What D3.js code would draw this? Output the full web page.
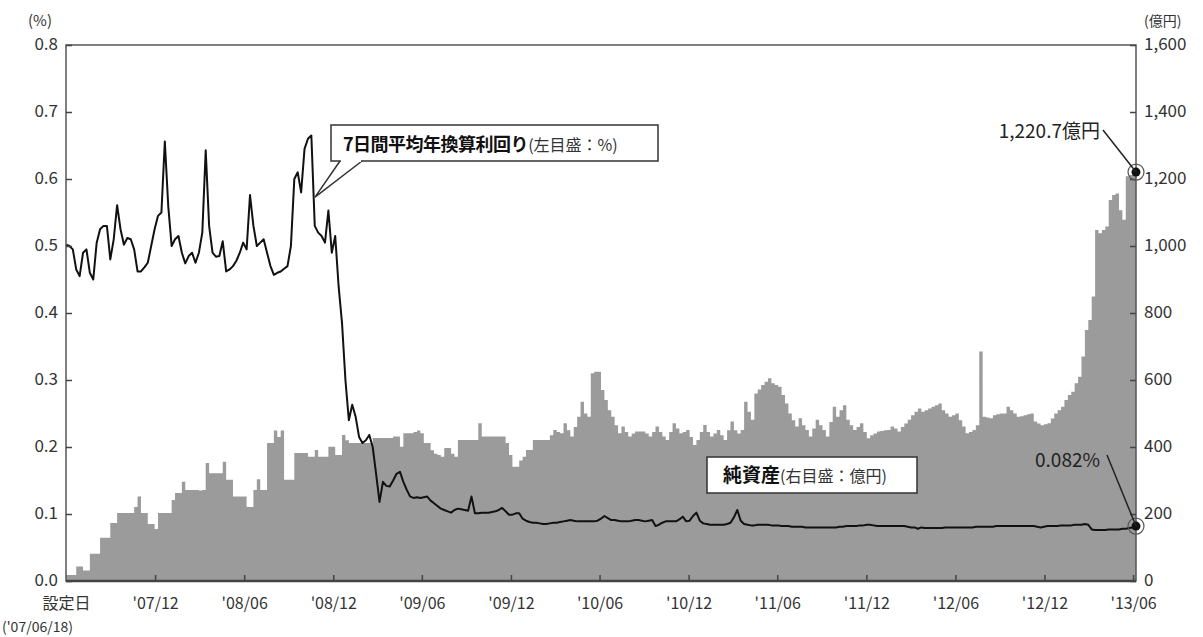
<!DOCTYPE html>
<html>
<head>
<meta charset="utf-8">
<script src="https://cdn.jsdelivr.net/npm/d3@7"></script>
<style>
  body { margin: 0; background: #fff; }
  text { font-family: "Noto Sans CJK JP", "Noto Sans", sans-serif; }
</style>
</head>
<body>
<svg id="chart" width="1203" height="637"></svg>
<script>
// weekly data from the setup date
const startDate = new Date(2007, 5, 18);
const stepDays = 7;

// net assets (右目盛：億円)
const netAssets = [
  18,18,18,43,43,31,31,81,81,81,
  129,129,129,173,173,203,203,203,203,203,
  221,252,203,203,170,170,155,203,203,203,
  203,242,263,263,296,272,272,272,272,270,
  272,352,322,322,322,322,356,302,302,252,
  252,252,252,221,221,272,304,272,272,412,
  412,449,430,449,302,302,302,382,382,382,
  382,371,371,391,371,371,371,401,401,376,
  376,436,420,412,412,412,412,412,412,412,
  427,427,427,427,427,427,431,431,401,441,
  441,441,445,449,441,412,412,390,380,376,
  371,397,397,380,371,421,421,421,421,421,
  421,471,431,431,431,431,431,431,431,412,
  376,341,341,360,371,391,391,421,421,421,
  421,421,435,451,445,441,471,450,431,460,
  490,535,500,490,620,625,625,570,540,510,
  490,465,441,461,445,431,440,446,446,446,
  440,431,445,461,445,431,421,445,471,455,
  441,445,451,430,406,421,445,466,445,431,
  440,451,435,421,450,476,450,440,451,535,
  505,481,560,572,585,595,605,590,585,580,
  555,530,500,480,461,486,465,451,431,455,
  481,465,451,431,475,520,490,510,525,481,
  465,451,460,471,445,426,435,440,446,448,
  450,451,461,455,446,460,470,481,495,505,
  515,505,510,515,520,525,530,510,500,490,
  495,500,480,461,441,445,451,465,685,490,
  488,486,495,498,500,500,520,510,500,490,
  492,495,498,500,476,470,465,468,471,485,
  500,510,520,540,555,565,590,610,670,749,
  779,849,1048,1038,1048,1058,1137,1152,1157,1107,
  1078,1208,1212,1217,1220.7
];

// 7-day average annualised yield (左目盛：%)
const yield7d = [
  .502,.50,.495,.465,.455,.49,.495,.46,.45,.505,
  .525,.53,.53,.48,.51,.561,.525,.502,.512,.51,
  .495,.462,.462,.468,.475,.50,.525,.545,.55,.656,
  .56,.50,.51,.515,.49,.474,.485,.49,.475,.49,
  .52,.643,.53,.49,.484,.485,.507,.462,.465,.47,
  .478,.49,.505,.495,.576,.53,.50,.505,.51,.49,
  .47,.457,.46,.462,.466,.47,.50,.60,.61,.58,
  .645,.66,.665,.53,.52,.515,.505,.553,.49,.515,
  .44,.385,.30,.24,.263,.245,.215,.206,.21,.218,
  .20,.16,.118,.148,.142,.141,.15,.16,.163,.148,
  .136,.126,.124,.125,.124,.125,.126,.12,.116,.112,
  .108,.106,.104,.102,.106,.108,.107,.106,.105,.126,
  .101,.101,.102,.102,.102,.103,.104,.106,.109,.104,
  .099,.099,.101,.101,.093,.09,.088,.087,.087,.086,
  .085,.085,.086,.087,.087,.088,.089,.09,.091,.09,
  .089,.089,.089,.089,.089,.089,.09,.093,.097,.094,
  .091,.091,.09,.089,.089,.089,.09,.091,.091,.09,
  .089,.09,.091,.082,.084,.087,.089,.089,.089,.089,
  .092,.096,.089,.09,.097,.102,.09,.086,.085,.084,
  .084,.084,.084,.084,.085,.087,.095,.106,.09,.085,
  .084,.083,.083,.084,.084,.084,.084,.083,.083,.083,
  .082,.082,.082,.081,.081,.081,.081,.08,.08,.08,
  .08,.08,.08,.08,.08,.08,.08,.081,.081,.082,
  .082,.082,.082,.083,.083,.084,.084,.083,.082,.082,
  .082,.082,.082,.082,.082,.082,.082,.081,.08,.08,
  .078,.08,.079,.079,.079,.079,.079,.079,.08,.08,
  .08,.08,.08,.08,.08,.08,.08,.081,.081,.081,
  .081,.081,.081,.082,.082,.082,.082,.082,.082,.082,
  .082,.082,.082,.082,.082,.081,.08,.081,.082,.082,
  .082,.082,.083,.083,.083,.083,.084,.084,.084,.085,
  .084,.077,.076,.076,.076,.076,.077,.077,.077,.077,
  .078,.078,.079,.08,.082
];

const xTickDates = ["2007-12-18","2008-06-18","2008-12-18","2009-06-18","2009-12-18","2010-06-18",
  "2010-12-18","2011-06-18","2011-12-18","2012-06-18","2012-12-18","2013-06-18"];
const leftTicks = [0, 0.1, 0.2, 0.3, 0.4, 0.5, 0.6, 0.7, 0.8];
const rightTicks = [0, 200, 400, 600, 800, 1000, 1200, 1400, 1600];

const lastAssets = "1,220.7億円";
const lastYield = "0.082%";

const parse = d3.timeParse("%Y-%m-%d");
const dates = netAssets.map((d, i) => d3.timeDay.offset(startDate, i * stepDays));

const m = { left: 66, right: 1136, top: 45, bottom: 581 };
const svg = d3.select("#chart");

const x = d3.scaleTime()
  .domain([startDate, dates[dates.length - 1]])
  .range([m.left, m.right]);
const yL = d3.scaleLinear().domain([0, 0.8]).range([m.bottom, m.top]);
const yR = d3.scaleLinear().domain([0, 1600]).range([m.bottom, m.top]);

// net assets area
const area = d3.area()
  .x((d, i) => x(dates[i]))
  .y0(m.bottom)
  .y1(d => yR(d))
  .curve(d3.curveStepAfter);
svg.append("path")
  .datum(netAssets)
  .attr("d", area)
  .attr("fill", "#9b9b9b");

// yield line
const line = d3.line()
  .x((d, i) => x(dates[i]))
  .y(d => yL(d));
svg.append("path")
  .datum(yield7d)
  .attr("d", line)
  .attr("fill", "none")
  .attr("stroke", "#111")
  .attr("stroke-width", 2)
  .attr("stroke-linejoin", "round");

// frame
svg.append("rect")
  .attr("x", m.left).attr("y", m.top)
  .attr("width", m.right - m.left).attr("height", m.bottom - m.top)
  .attr("fill", "none").attr("stroke", "#555").attr("stroke-width", 1.5);
svg.append("line")
  .attr("x1", m.left).attr("x2", m.right).attr("y1", m.bottom).attr("y2", m.bottom)
  .attr("stroke", "#444").attr("stroke-width", 2.5);

// axes
const styleAxis = g => {
  g.select(".domain").remove();
  g.selectAll(".tick line").attr("stroke", "#444").attr("stroke-width", 1.5);
  g.selectAll(".tick text").attr("fill", "#333").style("font-size", "17px")
    .style("font-family", '"Noto Sans CJK JP", sans-serif');
};

svg.append("g")
  .attr("transform", `translate(${m.left},0)`)
  .call(d3.axisLeft(yL).tickValues(leftTicks).tickSize(-6).tickPadding(8).tickFormat(d3.format(".1f")))
  .call(styleAxis)
  .call(g => g.selectAll(".tick text").attr("dy", "0.28em"));

svg.append("g")
  .attr("transform", `translate(${m.right},0)`)
  .call(d3.axisRight(yR).tickValues(rightTicks).tickSize(-6).tickPadding(8).tickFormat(d3.format(",")))
  .call(styleAxis)
  .call(g => g.selectAll(".tick text").attr("dy", "0.28em"));

const fmt = d3.timeFormat("'%y/%m");
svg.append("g")
  .attr("transform", `translate(0,${m.bottom})`)
  .call(d3.axisBottom(x).tickValues([startDate].concat(xTickDates.map(parse))).tickSize(-6).tickPadding(17)
    .tickFormat(d => +d === +startDate ? "設定日" : fmt(d)))
  .call(styleAxis)
  .call(g => g.selectAll(".tick text").style("font-size", "16px"))
  .call(g => g.selectAll(".tick").filter(d => +d === +startDate).select("line").remove());

svg.append("text").attr("x", 2).attr("y", 632)
  .attr("fill", "#333").style("font-size", "14px")
  .text("('07/06/18)");

// unit labels
svg.append("text").attr("x", 28).attr("y", 26).attr("fill", "#333").style("font-size", "15px").text("(%)");
svg.append("text").attr("x", 1144).attr("y", 26).attr("fill", "#333").style("font-size", "14px").text("(億円)");

// end markers
const xe = x(dates[dates.length - 1]);
const ya = yR(netAssets[netAssets.length - 1]);
const yy = yL(yield7d[yield7d.length - 1]);
[ya, yy].forEach(cy => {
  svg.append("circle").attr("cx", xe).attr("cy", cy).attr("r", 8)
    .attr("fill", "none").attr("stroke", "#555").attr("stroke-width", 1.2);
  svg.append("circle").attr("cx", xe).attr("cy", cy).attr("r", 4.5).attr("fill", "#111");
});

svg.append("line").attr("x1", xe - 33).attr("y1", ya - 42).attr("x2", xe).attr("y2", ya)
  .attr("stroke", "#222").attr("stroke-width", 1.5);
svg.append("text").attr("x", xe - 36).attr("y", ya - 34).attr("text-anchor", "end")
  .attr("fill", "#222").style("font-size", "19px").text(lastAssets);

svg.append("line").attr("x1", xe - 29).attr("y1", yy - 71).attr("x2", xe).attr("y2", yy)
  .attr("stroke", "#222").attr("stroke-width", 1.5);
svg.append("text").attr("x", xe - 36).attr("y", yy - 59).attr("text-anchor", "end")
  .attr("fill", "#222").style("font-size", "19px").text(lastYield);

// callout: yield
const tipX = 315, tipY = yL(0.573);
svg.append("path")
  .attr("d", `M340,161 L${tipX},${tipY} L362,161`)
  .attr("fill", "#fff").attr("stroke", "#333").attr("stroke-width", 1.5);
svg.append("rect").attr("x", 331).attr("y", 125).attr("width", 327).attr("height", 36)
  .attr("fill", "#fff").attr("stroke", "#333").attr("stroke-width", 1.5);
svg.append("line").attr("x1", 341).attr("x2", 361).attr("y1", 161).attr("y2", 161)
  .attr("stroke", "#fff").attr("stroke-width", 2);
const t1 = svg.append("text").attr("x", 343).attr("y", 151).attr("fill", "#111");
t1.append("tspan").style("font-size", "18px").style("font-weight", "bold").attr("letter-spacing", "-0.5").text("7日間平均年換算利回り");
t1.append("tspan").style("font-size", "16px").attr("fill", "#333").text("(左目盛：%)");

// callout: net assets
svg.append("rect").attr("x", 707).attr("y", 457).attr("width", 210).attr("height", 36)
  .attr("fill", "#fff").attr("stroke", "#333").attr("stroke-width", 1.5);
const t2 = svg.append("text").attr("x", 723).attr("y", 482).attr("fill", "#111");
t2.append("tspan").style("font-size", "19px").style("font-weight", "bold").text("純資産");
t2.append("tspan").style("font-size", "16px").attr("fill", "#333").text("(右目盛：億円)");
</script>
</body>
</html>
